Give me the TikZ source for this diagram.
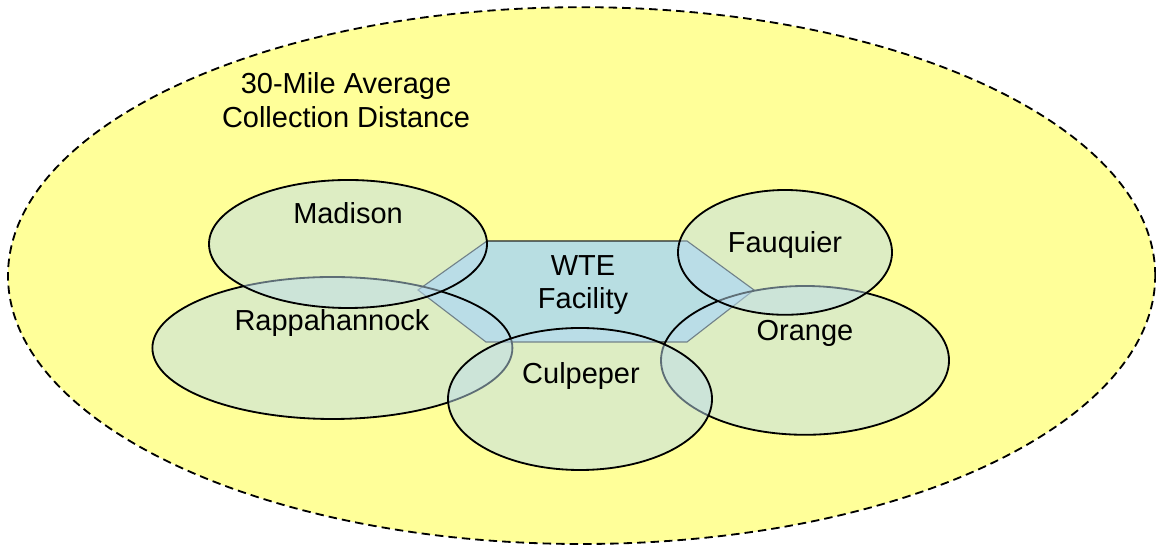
\documentclass[tikz,border=0pt]{standalone}
\usepackage{fontspec}
\setmainfont{Liberation Sans}
\usetikzlibrary{positioning}

\definecolor{areayellow}{RGB}{255,255,153}
\definecolor{plantblue}{RGB}{184,222,226}
\definecolor{countyblue}{RGB}{189,221,237}

\begin{document}
\begin{tikzpicture}[
  county/.style={draw=black, line width=1.3pt, fill=countyblue, fill opacity=0.5},
  lbl/.style={inner sep=0pt, font=\fontsize{20.6}{23.8}\selectfont, align=center},
]
\useasboundingbox (0,0) rectangle (28.9,13.75);

\coordinate (H1) at (12.175,7.725);
\coordinate (H2) at (17.175,7.725);
\coordinate (H3) at (18.85,6.5);
\coordinate (H4) at (17.175,5.2);
\coordinate (H5) at (12.15,5.2);
\coordinate (H6) at (10.45,6.5);

% collection area
\draw[fill=areayellow, line width=1.3pt, dash pattern=on 6pt off 3.6pt] (14.54,6.86) ellipse [x radius=14.34, y radius=6.71];

% facility
\draw[fill=plantblue, draw=black!85, line width=0.8pt] (H1) -- (H2) -- (H3) -- (H4) -- (H5) -- (H6) -- cycle;

% counties
\draw[county] (8.31,5.05) ellipse [x radius=4.50, y radius=1.775];
\draw[county] (20.125,4.74) ellipse [x radius=3.60, y radius=1.86];
\draw[county] (8.70,7.65) ellipse [x radius=3.475, y radius=1.60];
\draw[county] (14.50,3.775) ellipse [x radius=3.30, y radius=1.775];
\draw[county] (19.625,7.44) ellipse [x radius=2.675, y radius=1.56];

\node[lbl] (dist) at (8.65,11.25) {30-Mile Average\\Collection Distance};
\node[lbl, anchor=base] (madison) at (8.70,8.15) {Madison};
\node[lbl, anchor=base] (rappahannock) at (8.30,5.475) {Rappahannock};
\node[lbl] (wte) at (14.575,6.62) {WTE\\Facility};
\node[lbl, anchor=base] (fauquier) at (19.625,7.425) {Fauquier};
\node[lbl, anchor=base] (orange) at (20.125,5.225) {Orange};
\node[lbl, anchor=base] (culpeper) at (14.525,4.15) {Culpeper};

\end{tikzpicture}
\end{document}
